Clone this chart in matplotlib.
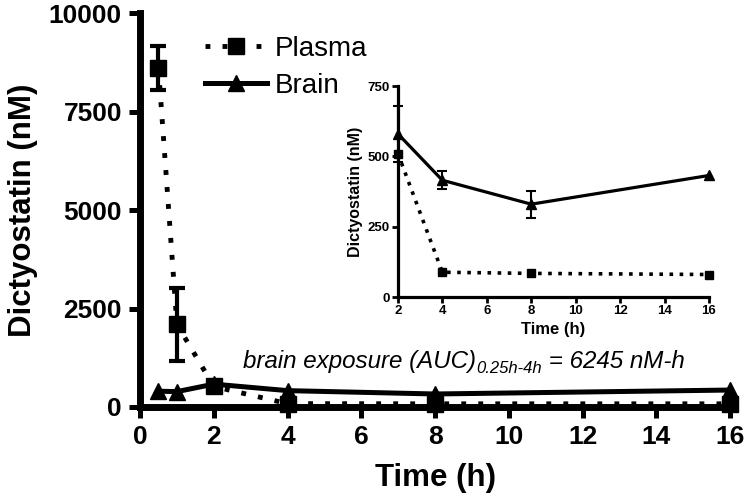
import matplotlib
matplotlib.use('Agg')
import matplotlib.pyplot as plt

plt.rcParams['font.family'] = ['Liberation Sans', 'DejaVu Sans']

# main plot data (nM)
time_h = [0.5, 1, 2, 4, 8, 16]
plasma = [8600, 2100, 520, 85, 80, 80]
plasma_err = [560, 920, 0, 0, 0, 0]
brain = [400, 390, 580, 415, 330, 430]

# inset data (2h - 16h)
inset_time = [2, 4, 8, 16]
inset_plasma = [510, 88, 84, 80]
inset_brain = [580, 415, 330, 432]
inset_brain_err = [100, 32, 48, 0]

main_xticks = [0, 2, 4, 6, 8, 10, 12, 14, 16]
main_yticks = [0, 2500, 5000, 7500, 10000]
inset_xticks = [2, 4, 6, 8, 10, 12, 14, 16]
inset_yticks = [0, 250, 500, 750]


def only_err(x, y, e):
    # keep points that actually have an error bar
    keep = [i for i in range(len(x)) if e[i] > 0]
    return [x[i] for i in keep], [y[i] for i in keep], [e[i] for i in keep]


fig = plt.figure(figsize=(7.48, 5.04), dpi=100)
ax = fig.add_axes([0.1872, 0.1925, 0.789, 0.7815])

ax.plot(time_h, brain, color='black', lw=3.6, marker='^', markersize=12,
        label='Brain', clip_on=False, zorder=3)
ax.plot(time_h, plasma, color='black', lw=3.5, ls=(0, (1, 2.5)), marker='s',
        markersize=11, label='Plasma', clip_on=False, zorder=4)
ex, ey, ee = only_err(time_h, plasma, plasma_err)
ax.errorbar(ex, ey, yerr=ee, fmt='none', ecolor='black', elinewidth=3,
            capsize=6, capthick=3, zorder=4)

ax.set_xlim(0, 16)
ax.set_ylim(0, 10000)
ax.set_xticks(main_xticks)
ax.set_yticks(main_yticks)
for s in ['top', 'right']:
    ax.spines[s].set_visible(False)
for s in ['left', 'bottom']:
    ax.spines[s].set_linewidth(5)
ax.tick_params(width=3.6, length=8, pad=5, labelsize=19)
for lab in ax.get_xticklabels() + ax.get_yticklabels():
    lab.set_fontweight('bold')
ax.set_xlabel('Time (h)', fontsize=22.5, fontweight='bold', labelpad=10)
ax.set_ylabel('Dictyostatin (nM)', fontsize=22.5, fontweight='bold', labelpad=8)

h, l = ax.get_legend_handles_labels()
ax.legend(h[::-1], l[::-1], loc='upper left', bbox_to_anchor=(0.274, 0.929),
          bbox_transform=fig.transFigure, frameon=False, fontsize=20,
          handlelength=2.23, handletextpad=0.3, labelspacing=0.4,
          borderpad=0, borderaxespad=0, numpoints=1)

# annotation with subscript
t1 = ax.annotate('brain exposure (AUC)', xy=(243 / 748, 1 - 368 / 504),
                 xycoords='figure fraction', fontsize=17.4, style='italic',
                 va='baseline', ha='left')
t2 = ax.annotate('0.25h-4h', xy=(1, 0), xycoords=t1, xytext=(0, -2),
                 textcoords='offset points', fontsize=12, style='italic',
                 va='bottom', ha='left')
t3 = ax.annotate(' = 6245 nM-h', xy=(1, 0), xycoords=(t2, t1), fontsize=17.4,
                 style='italic', va='bottom', ha='left')

# inset
ins = fig.add_axes([0.532, 0.4107, 0.4158, 0.4186])
ins.plot(inset_time, inset_brain, color='black', lw=2.3, marker='^', markersize=7,
         clip_on=False, zorder=3)
ex, ey, ee = only_err(inset_time, inset_brain, inset_brain_err)
ins.errorbar(ex, ey, yerr=ee, fmt='none', ecolor='black', elinewidth=1.5,
             capsize=3.5, capthick=1.5, clip_on=False, zorder=3)
ins.plot(inset_time, inset_plasma, color='black', lw=2.6, ls=(0, (1, 1.8)),
         marker='s', markersize=6, clip_on=False, zorder=4)
ins.set_xlim(2, 16)
ins.set_ylim(0, 750)
ins.set_xticks(inset_xticks)
ins.set_yticks(inset_yticks)
for s in ['top', 'right']:
    ins.spines[s].set_visible(False)
for s in ['left', 'bottom']:
    ins.spines[s].set_linewidth(2.3)
ins.tick_params(width=2, length=4, pad=2, labelsize=9.5)
for lab in ins.get_xticklabels() + ins.get_yticklabels():
    lab.set_fontweight('bold')
ins.set_xlabel('Time (h)', fontsize=12, fontweight='bold', labelpad=3)
ins.set_ylabel('Dictyostatin (nM)', fontsize=11.5, fontweight='bold', labelpad=3)

fig.savefig('out.png', dpi=100)
